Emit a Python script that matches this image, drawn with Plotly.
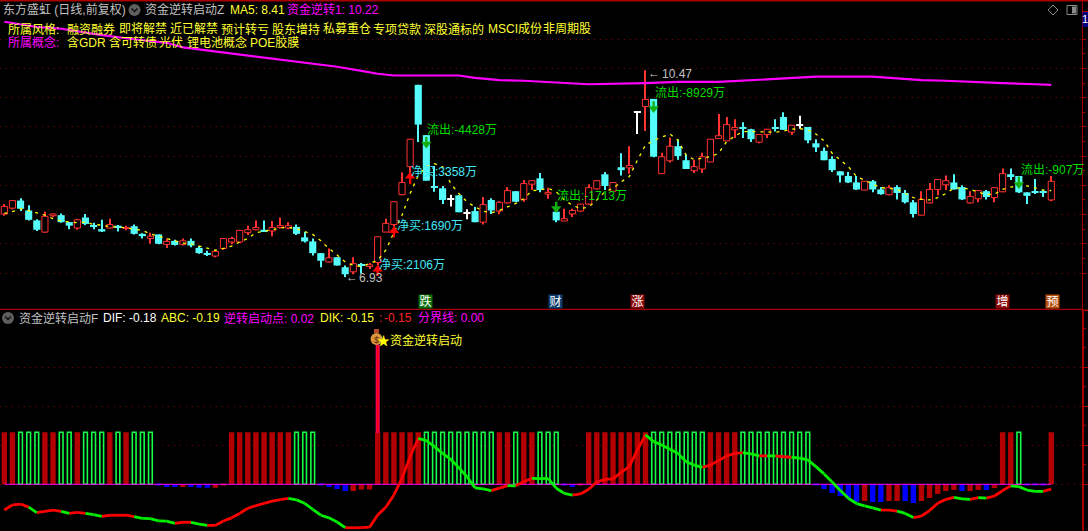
import plotly.graph_objects as go

# ---------- price data (yuan), one entry per trading day ----------
opens = [8.01,8.11,8.24,8.07,7.90,7.70,7.98,7.99,7.87,7.77,
         7.95,7.81,7.75,7.77,7.81,7.76,7.80,7.67,7.59,7.66,
         7.49,7.55,7.49,7.55,7.43,7.34,7.29,7.42,7.53,7.53,
         7.69,7.74,7.74,7.72,7.78,7.77,7.79,7.61,7.54,7.34,
         7.19,7.27,7.10,7.02,7.14,7.11,7.18,7.70,7.83,8.34,
         8.82,10.22,9.36,8.48,8.45,8.25,8.33,8.01,8.06,7.87,
         8.25,8.06,8.20,8.40,8.26,8.52,8.62,8.35,8.05,7.89,
         8.01,8.06,8.18,8.44,8.69,8.40,8.81,8.80,9.75,9.85,
         9.98,8.70,8.92,9.17,8.93,8.75,8.78,8.90,9.30,9.26,
         9.45,9.49,9.46,9.24,9.37,9.49,9.67,9.41,9.52,9.50,
         9.22,9.09,8.95,8.74,8.66,8.55,8.42,8.57,8.43,8.34,
         8.47,8.37,8.21,7.99,8.20,8.43,8.51,8.55,8.47,8.20,
         8.27,8.40,8.29,8.39,8.69,8.66,8.38,8.39,8.39,8.25]
closes = [8.14,8.24,8.10,7.91,7.74,7.97,8.01,7.87,7.81,7.91,
          7.84,7.79,7.71,7.83,7.77,7.78,7.67,7.63,7.63,7.50,
          7.54,7.48,7.55,7.47,7.34,7.32,7.37,7.59,7.59,7.73,
          7.74,7.78,7.71,7.78,7.81,7.81,7.67,7.54,7.34,7.21,
          7.26,7.13,6.98,7.16,7.12,7.14,7.62,7.85,8.22,8.55,
          9.29,9.54,8.58,8.46,8.25,8.25,8.04,8.01,7.87,8.17,
          8.07,8.21,8.41,8.22,8.53,8.58,8.42,8.38,7.90,7.93,
          8.07,8.18,8.46,8.58,8.49,8.55,8.76,8.84,9.75,9.97,
          8.99,8.99,9.17,9.00,8.78,8.82,8.99,9.29,9.35,9.54,
          9.49,9.47,9.29,9.37,9.46,9.47,9.45,9.53,9.52,9.27,
          9.15,8.93,8.76,8.67,8.55,8.43,8.57,8.43,8.35,8.46,
          8.37,8.21,8.01,8.26,8.43,8.60,8.58,8.43,8.26,8.31,
          8.41,8.30,8.46,8.70,8.66,8.38,8.32,8.37,8.37,8.57]
highs = [8.18,8.24,8.28,8.16,7.92,8.05,8.02,8.02,7.87,7.93,
         8.01,7.86,7.91,7.93,7.82,7.81,7.83,7.68,7.69,7.66,
         7.59,7.57,7.59,7.59,7.46,7.38,7.39,7.60,7.62,7.73,
         7.81,7.90,7.90,7.89,7.95,7.87,7.83,7.70,7.59,7.34,
         7.42,7.27,7.13,7.27,7.17,7.17,7.62,7.93,8.22,8.72,
         9.29,10.22,9.36,8.83,8.49,8.34,8.33,8.09,8.13,8.30,
         8.28,8.23,8.47,8.40,8.59,8.58,8.71,8.46,8.10,8.10,
         8.10,8.18,8.52,8.58,8.73,8.55,9.05,9.17,9.75,10.47,
         9.98,9.06,9.32,9.29,9.03,8.94,9.06,9.29,9.72,9.67,
         9.63,9.58,9.47,9.37,9.46,9.63,9.75,9.53,9.69,9.50,
         9.29,9.15,9.00,8.74,8.73,8.66,8.57,8.59,8.47,8.50,
         8.50,8.42,8.25,8.40,8.54,8.60,8.67,8.69,8.50,8.40,
         8.41,8.42,8.46,8.79,8.79,8.66,8.38,8.61,8.42,8.66]
lows = [7.98,8.09,8.06,7.90,7.72,7.69,7.96,7.86,7.75,7.74,
        7.82,7.75,7.70,7.76,7.71,7.73,7.66,7.59,7.50,7.49,
        7.43,7.47,7.47,7.44,7.33,7.29,7.27,7.40,7.49,7.52,
        7.65,7.73,7.70,7.63,7.76,7.75,7.65,7.52,7.30,7.10,
        7.18,7.13,6.93,6.98,6.99,7.07,7.13,7.70,7.79,8.33,
        8.67,9.24,8.58,8.39,8.18,8.14,8.04,7.92,7.87,7.83,
        8.01,8.01,8.19,8.21,8.22,8.42,8.38,8.27,7.87,7.89,
        7.96,8.05,8.17,8.43,8.42,8.39,8.67,8.70,9.38,9.43,
        8.98,8.70,8.89,8.94,8.78,8.71,8.71,8.90,9.30,9.26,
        9.31,9.31,9.24,9.22,9.31,9.42,9.45,9.36,9.47,9.22,
        9.07,8.93,8.73,8.55,8.54,8.42,8.42,8.38,8.34,8.33,
        8.26,8.19,7.95,7.99,8.19,8.33,8.42,8.43,8.25,8.19,
        8.21,8.26,8.21,8.38,8.59,8.37,8.18,8.35,8.30,8.23]
ma5 = [8.02,8.05,8.10,8.07,8.03,7.99,7.93,7.89,7.87,7.86,
       7.87,7.83,7.82,7.79,7.79,7.77,7.74,7.73,7.67,7.63,
       7.58,7.55,7.51,7.50,7.46,7.43,7.39,7.42,7.46,7.53,
       7.59,7.69,7.71,7.74,7.77,7.78,7.76,7.71,7.66,7.55,
       7.42,7.31,7.19,7.13,7.11,7.16,7.22,7.39,7.68,7.99,
       8.36,8.67,8.82,8.87,8.82,8.53,8.36,8.22,8.13,8.06,
       8.03,8.07,8.13,8.19,8.27,8.41,8.42,8.45,8.39,8.25,
       8.16,8.10,8.13,8.25,8.39,8.45,8.56,8.65,8.93,9.19,
       9.27,9.32,9.38,9.27,9.02,8.94,8.96,8.99,9.05,9.25,
       9.34,9.42,9.42,9.42,9.41,9.41,9.43,9.46,9.47,9.45,
       9.38,9.26,9.05,8.94,8.82,8.65,8.59,8.52,8.46,8.45,
       8.43,8.36,8.29,8.26,8.25,8.29,8.36,8.45,8.46,8.43,
       8.39,8.34,8.35,8.43,8.47,8.49,8.49,8.46,8.42,8.41]

# long moving average, read at the days where its slope changes
long_ma_days = [0,4,7,12,16,20,22,26,33,41,44,46,48,56,58,61,64,67,72,79,83,88,92,94,97,100,107,110,113,116,119,123,127,129]
long_ma = [11.30,11.21,11.18,11.07,11.00,10.94,10.86,10.79,10.68,10.53,10.46,10.41,10.38,10.38,10.34,10.30,10.29,10.27,10.23,10.25,10.27,10.27,10.30,10.32,10.34,10.36,10.36,10.33,10.30,10.29,10.27,10.25,10.23,10.22]

# buy / sell arrows: day, tail price, tip price
buy_days = [46,48,50]
buy_tails = [6.95,7.61,8.52]
buy_tips = [7.14,7.80,8.73]
sell_days = [52,68,80,125]
sell_tails = [9.33,8.22,9.94,8.65]
sell_tips = [9.13,8.03,9.74,8.44]

# ---------- indicator pane ----------
signal_values = [2,2,2,2,2,2,2,2,2,2,2,2,2,2,2,2,2,2,2,
                 -.05,-.1,-.1,-.1,-.1,-.13,-.13,-.13,-.05,
                 2,2,2,2,2,2,2,2,2,2,2,
                 -.05,-.1,-.18,-.26,-.26,-.2,-.2,
                 2,2,2,2,2,2,2,2,2,2,2,2,2,2,2,2,2,2,2,2,2,2,2,
                 -.03,-.1,-.03,
                 2,2,2,2,2,2,2,2,2,2,2,2,2,2,2,2,2,2,2,2,2,2,2,2,2,2,2,2,
                 -.02,-.18,-.33,-.45,-.56,-.67,-.64,-.68,-.68,-.64,-.64,-.64,-.72,-.64,-.53,-.37,-.26,-.22,-.26,-.26,-.22,-.22,-.14,
                 2,2,2,-.03,-.03,-.03,2]
signal_kinds = list("rrgggrrggrgggrgrggg" "bbbrbbbrr" "rrrrrrrr" "ggg" "bbbbrrr"
                    "rrrrrr" "ggggggggg" "rr" "g" "rr" "ggg" "bbr"
                    "rrrrrrrr" "ggggggg" "rrrr" "ggggggggg"
                    "bbbbbb" "r" "bb" "rr" "bb" "rrrrr" "b" "rr" "b" "r"
                    "rr" "g" "bbb" "r")
dif = [-.99,-.79,-.76,-.88,-1.09,-1.04,-.99,-1.04,-1.12,-1.08,
       -1.12,-1.17,-1.23,-1.19,-1.19,-1.19,-1.24,-1.31,-1.32,-1.41,
       -1.42,-1.50,-1.46,-1.46,-1.53,-1.58,-1.58,-1.41,-1.29,-1.12,
       -.92,-.82,-.73,-.65,-.59,-.54,-.60,-.73,-.96,-1.19,
       -1.29,-1.45,-1.67,-1.67,-1.67,-1.65,-1.18,-.88,-.41,.23,
       1.06,1.77,1.68,1.45,1.19,.96,.64,.29,-.14,-.18,
       -.24,-.15,-.05,-.06,.10,.23,.22,.23,-.15,-.35,
       -.42,-.37,-.19,.09,.19,.21,.46,.68,1.32,1.90,
       1.64,1.51,1.35,1.19,.87,.74,.65,.74,.91,1.09,
       1.19,1.22,1.17,1.09,1.09,1.09,1.06,1.04,1.01,.94,
       .68,.40,.09,-.24,-.54,-.74,-.83,-.91,-.99,-.99,
       -1.03,-1.12,-1.28,-1.22,-1.01,-.73,-.58,-.50,-.56,-.58,
       -.51,-.53,-.45,-.24,-.06,-.09,-.22,-.27,-.27,-.18]
dif_green_spans = [(3,4),(7,8),(10,12),(16,21),(23,25),(35,42),(51,60),(62,63),(65,70),(79,86),
                   (91,93),(94,95),(97,108),(110,112),(117,119),(120,121),(124,128)]
start_day = 46
start_value = 5.36

# ---------- text ----------
style_tags = [("融资融券",66),("即将解禁",118),("近已解禁",169),("预计转亏",220),("股东增持",271),
              ("私募重仓",322),("专项贷款",372),("深股通标的",423),("MSCI成份",487),("非周期股",542)]
concept_tags = [("含GDR",66),("含可转债",108),("光伏",158),("锂电池概念",186),("POE胶膜",249)]
flow_notes = [("净买:2106万",378,265,"c"),("净买:1690万",396,226,"c"),("净买:3358万",410,172,"c"),
              ("流出:-4428万",426,130,"g"),("流出:-8929万",654,93,"g"),("流出:-1713万",556,196,"g"),
              ("流出:-907万",1020,170,"g")]
event_tags = [("跌",425.5,"#0a6e0a"),("财",555.5,"#0e3f6e"),("涨",637.5,"#8a0a0a"),("增",1002.5,"#8a0a0a"),("预",1052.5,"#b8500f")]

# ---------- geometry ----------
W, H = 1088, 531
AX = 1082          # x pixel of the right axis
PANE = 309.5       # y pixel of the pane separator
X0, DX = 4.33, 8.116   # pixel of day 0, pixels per day
# price pane: 7.0 at y=273, 58.43 px per yuan
Y7, PPY = 273.0, 58.43
# indicator pane: 0 at y=484.3, 26 px per unit
Z0, PPU = 484.3, 26.0
days = list(range(len(opens)))

BG = "#000000"; RED = "#ff3232"; CYAN = "#54fcfc"; WHITE = "#ffffff"; BAR_RED = "#b40000"
BAR_GREEN = "#14ff48"; AXIS = "#a80000"; GRID = "#800000"; GREY = "#c0c0c0"; YEL = "#ffff33"; MAG = "#ff00ff"
FONT = "Liberation Sans, Noto Sans CJK SC, sans-serif"

fig = go.Figure()
ref = dict(xaxis="x", yaxis="y")
ref2 = dict(xaxis="x2", yaxis="y2")

def candle_group(idx, color, fill, body_w, line_w, min_h=0.0):
    wx = [days[i] for i in idx]
    fig.add_trace(go.Bar(x=wx, base=[lows[i] for i in idx], y=[highs[i]-lows[i] for i in idx], width=0.13,
                         marker=dict(color=color, line=dict(width=0)), **ref))
    fig.add_trace(go.Bar(x=wx, base=[min(opens[i], closes[i]) for i in idx],
                         y=[max(abs(closes[i]-opens[i]), min_h) for i in idx], width=body_w,
                         marker=dict(color=fill, line=dict(width=line_w, color=color)), **ref))

up = [i for i in days if closes[i] > opens[i]]
down = [i for i in days if closes[i] < opens[i]]
flat = [i for i in days if closes[i] == opens[i]]
candle_group(up, RED, BG, 0.76, 1)
candle_group(down, CYAN, CYAN, 0.88, 0)
candle_group(flat, WHITE, WHITE, 0.88, 0, 0.02)

fig.add_trace(go.Scatter(x=long_ma_days, y=long_ma, mode="lines", line=dict(color=MAG, width=2.2), **ref))
fig.add_trace(go.Scatter(x=days, y=ma5, mode="lines", line=dict(color="#ffff00", width=1.3, dash="3px,5px"), **ref))

def arrows(ds, tails, tips, color, symbol, sign):
    for d, a, b in zip(ds, tails, tips):
        fig.add_trace(go.Scatter(x=[d, d], y=[a, b - sign*0.05], mode="lines", line=dict(color=color, width=2.4), **ref))
    fig.add_trace(go.Scatter(x=ds, y=[t - sign*0.076 for t in tips], mode="markers",
                             marker=dict(symbol=symbol, size=9, color=color, line=dict(width=0)), **ref))
arrows(buy_days, buy_tails, buy_tips, "#ff0000", "triangle-up", 1)
arrows(sell_days, sell_tails, sell_tips, "#12b012", "triangle-down", -1)

# indicator pane: curve under the bars
fig.add_trace(go.Scatter(x=[0, days[-1]], y=[0, 0], mode="lines", line=dict(color=MAG, width=1), **ref2))
rx, ry, gx, gy = [], [], [], []
for i in days[:-1]:
    green = any(a <= i < b for a, b in dif_green_spans)
    (gx if green else rx).extend([i, i+1, None])
    (gy if green else ry).extend([dif[i], dif[i+1], None])
fig.add_trace(go.Scatter(x=rx, y=ry, mode="lines", line=dict(color="#ff0000", width=2.8), **ref2))
fig.add_trace(go.Scatter(x=gx, y=gy, mode="lines", line=dict(color="#00f000", width=2.8), **ref2))

for kind, fill, lc, lw in (("r", BAR_RED, BAR_RED, 0), ("b", "#0000ff", "#0000ff", 0), ("g", "rgba(0,0,0,0)", BAR_GREEN, 1.6)):
    idx = [i for i in days if signal_kinds[i] == kind]
    fig.add_trace(go.Bar(x=idx, y=[signal_values[i] for i in idx], width=0.46 if kind == "g" else 0.66,
                         marker=dict(color=fill, line=dict(width=lw, color=lc)), **ref2))
fig.add_trace(go.Bar(x=[start_day], base=[2], y=[start_value-2], width=0.36,
                     marker=dict(color="#ff0000", line=dict(width=1, color="#ff0080")), **ref2))

# ---------- annotations ----------
ann = []
def T(text, x, y, color, size=12, **kw):
    ann.append(dict(text=text, x=x/W, y=1-y/H, xref="paper", yref="paper", xanchor=kw.pop("xa", "left"), yanchor="middle",
                    showarrow=False, borderpad=0, font=dict(family=FONT, size=size, color=color), **kw))

T("东方盛虹 (日线,前复权)", 2, 10, GREY)
T("资金逆转启动Z", 144, 10, GREY)
T("MA5: 8.41", 229, 10, YEL)
T("资金逆转1: 10.22", 286, 10, MAG)
T("所属风格:", 7, 29, YEL)
for t, x in style_tags:
    T(t, x, 29, YEL)
T("所属概念:", 7, 43, MAG)
for t, x in concept_tags:
    T(t, x, 43, YEL)
for t, x, y, c in flow_notes:
    T(t, x, y, "#40e8f8" if c == "c" else "#00dd00")
T("←", 345, 277, GREY)
T("6.93", 358, 278, GREY)
T("←", 647, 73, GREY)
T("10.47", 661, 74, GREY)
for t, x, c in event_tags:
    ann.append(dict(text=t, x=x/W, y=1-301.5/H, xref="paper", yref="paper", xanchor="center", yanchor="middle", showarrow=False,
                    width=13, height=13, bgcolor=c, borderpad=0, font=dict(family=FONT, size=12, color="#ffffff")))
T("资金逆转启动F", 18, 318, GREY)
T("DIF: -0.18", 102, 318, WHITE)
T("ABC: -0.19", 160, 318, YEL)
T("逆转启动点: 0.02", 223, 318, MAG)
T("DIK: -0.15", 318.5, 318, YEL)
T(":", 378, 318, "#ff2020")
T("-0.15", 383, 318, "#ff2020")
T("分界线: 0.00", 416.5, 318, MAG)
T("$", 376.5, 339.5, "#5a2a00", size=9, xa="center")
T("★", 383, 340, "#ffff00", size=13, xa="center")
T("资金逆转启动", 389, 340, YEL)
T("1", 1085, 19, WHITE, size=11, xa="center")

# ---------- furniture ----------
def P(x, y):
    return x/W, 1-y/H
shapes = []
def rect(x0, y0, x1, y1, fill=None, line=None, lw=1):
    a, b = P(x0, y0); c, d = P(x1, y1)
    shapes.append(dict(type="rect", xref="paper", yref="paper", x0=a, y0=b, x1=c, y1=d, fillcolor=fill or "rgba(0,0,0,0)",
                       line=dict(color=line or "rgba(0,0,0,0)", width=lw if line else 0)))
def circ(cx, cy, r, fill):
    a, b = P(cx-r, cy-r); c, d = P(cx+r, cy+r)
    shapes.append(dict(type="circle", xref="paper", yref="paper", x0=a, y0=b, x1=c, y1=d, fillcolor=fill, line=dict(width=0)))
def poly(pts, color, lw=1, close=False):
    path = "M " + " L ".join("%.5f,%.5f" % P(*p) for p in pts) + (" Z" if close else "")
    shapes.append(dict(type="path", xref="paper", yref="paper", path=path, line=dict(color=color, width=lw)))

rect(0, 0, W, 1.6, fill=AXIS)
rect(0, 308.8, AX, 310, fill=AXIS)
rect(AX, 309.5, W, 311, fill=AXIS)
rect(AX, 11, W, 12, fill=AXIS)
rect(AX+0.5, 12, W, 27, fill="#000080")
for cx, cy in ((134.5, 10), (8, 318)):
    circ(cx, cy, 6, "#5f5f5f")
    poly([(cx-3, cy-1.5), (cx, cy+1.5), (cx+3, cy-1.5)], "#101010", 1.5)
poly([(1053, 5), (1058, 10), (1053, 15), (1048, 10)], "#8a8a8a", 1, close=True)
rect(1067, 5.5, 1077, 14.5, line="#8a8a8a", lw=1)
rect(1072, 6.5, 1076, 13.5, fill="#8a8a8a")
circ(376.5, 339, 6, "#d9943c")
rect(374, 329, 379, 333, fill="#b5482a")

xcommon = dict(visible=False, domain=[0, AX/W], range=[-X0/DX, (AX-X0)/DX], fixedrange=True)
def yrange(top, bottom, zero_px, scale, zero_val):
    return [zero_val + (zero_px-bottom)/scale, zero_val + (zero_px-top)/scale]

yc = dict(side="right", showline=True, linecolor=AXIS, showticklabels=False, ticks="outside", tickcolor=AXIS,
          showgrid=True, gridcolor=GRID, griddash="1px,5px", gridwidth=1, zeroline=False, fixedrange=True)

fig.update_layout(
    width=W, height=H, margin=dict(l=0, r=0, t=0, b=0), autosize=False,
    paper_bgcolor=BG, plot_bgcolor=BG, showlegend=False, barmode="overlay", hovermode=False,
    xaxis={**xcommon, "anchor": "y"},
    xaxis2={**xcommon, "anchor": "y2"},
    yaxis={**yc, "anchor": "x", "domain": [1-PANE/H, 1], "range": yrange(0, PANE, Y7, PPY, 7.0), "linewidth": 1,
           "tickmode": "array", "tickvals": [7, 7.5, 8, 8.5, 9, 9.5, 10, 10.5, 11], "ticklen": 3, "tickwidth": 1,
           "minor": dict(tickmode="array", tickvals=[7.25, 7.75, 8.25, 8.75, 9.25, 9.75, 10.25, 10.75], ticks="outside",
                         ticklen=1.5, tickcolor=AXIS, showgrid=False)},
    yaxis2={**yc, "anchor": "x2", "domain": [0, 1-PANE/H], "range": yrange(PANE, H, Z0, PPU, 0.0), "linewidth": 2,
            "tickmode": "array", "tickvals": [0, 1.5, 3, 4.5], "ticklen": 4, "tickwidth": 1,
            "minor": dict(tickmode="array", tickvals=[.75, 2.25, 3.75, 5.25, 6], ticks="outside",
                          ticklen=2, tickcolor=AXIS, showgrid=False)},
    annotations=ann, shapes=shapes,
)

fig.write_html("out.html", config=dict(displayModeBar=False),
               post_script="document.body.style.margin='0';document.body.style.background='#000';document.body.style.overflow='hidden';")
